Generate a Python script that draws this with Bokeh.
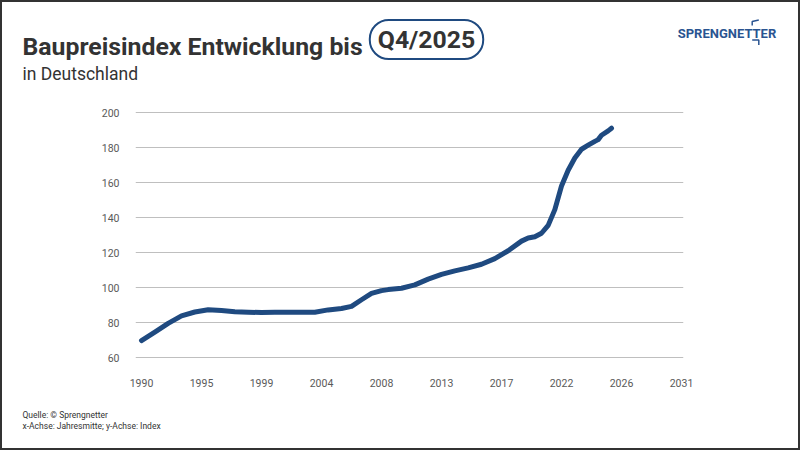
from bokeh.plotting import figure
from bokeh.layouts import column
from bokeh.models import Range1d, FixedTicker
from bokeh.core.properties import value
from bokeh.embed import file_html
from bokeh.resources import INLINE

# ---- data ----
years = [1990, 1991, 1992, 1993, 1994, 1995, 1996, 1997, 1998, 1999, 2000, 2001,
         2002, 2003, 2004, 2005, 2005.75, 2006.5, 2007.25, 2008, 2008.5, 2009.5,
         2010.5, 2011.5, 2012.5, 2013.5, 2014.5, 2015.5, 2016.5, 2017.5, 2018.5,
         2019, 2019.5, 2020, 2020.5, 2021, 2021.5, 2022, 2022.5, 2023, 2023.5,
         2024, 2024.25, 2024.5, 2025, 2025.25]
index_values = [69.7, 74.5, 79.5, 83.8, 86.0, 87.3, 86.8, 86.2, 85.9, 85.7, 85.8, 85.9,
                85.9, 85.9, 87.2, 88.0, 89.2, 93.0, 96.6, 98.2, 98.8, 99.6,
                101.5, 104.8, 107.5, 109.5, 111.2, 113.3, 116.5, 121.0, 126.5,
                128.3, 129.0, 131.0, 135.5, 144.5, 158.0, 167.0, 174.0, 179.0, 181.3,
                183.5, 184.5, 187.0, 189.5, 191.0]
xtick_values = [1990, 1994.5, 1999, 2003.5, 2008, 2012.5, 2017, 2021.5, 2026, 2030.5]
xtick_labels = ["1990", "1995", "1999", "2004", "2008", "2013", "2017", "2022", "2026", "2031"]
ytick_values = [60, 80, 100, 120, 140, 160, 180, 200]

title_text = ["Baupreisindex Entwicklung bis"]
title_badge = ["Q4/2025"]
subtitle_text = ["in Deutschland"]
logo_text = ["SPRENGNETTER"]
footer_lines = ["Quelle: \u00a9 Sprengnetter", "x-Achse: Jahresmitte; y-Achse: Index"]

# ---- layout (page pixels; a 2px frame surrounds the content) ----
B = 2
CW = 800 - 2 * B
HEAD_H, MAIN_H, FOOT_H = 93, 305, 48
HEAD_TOP = B
MAIN_TOP = HEAD_TOP + HEAD_H
FOOT_TOP = MAIN_TOP + MAIN_H

FONT = "Roboto"
BLUE = "#1F4A80"
LOGO_BLUE = "#2A5491"
TXT = "#333333"


def text_fig(h, top):
    f = figure(width=CW, height=h, output_backend="svg", toolbar_location=None,
               title=None, x_range=Range1d(B, B + CW), y_range=Range1d(top + h, top),
               x_axis_location=None, y_axis_location=None, frame_align=False,
               min_border=0, min_border_left=0, min_border_right=0,
               min_border_top=0, min_border_bottom=0)
    f.outline_line_color = None
    f.grid.visible = False
    f.background_fill_color = "white"
    f.border_fill_color = "white"
    return f


# header
head = text_fig(HEAD_H, HEAD_TOP)
head.text(x=[22], y=[45.5], text=title_text, text_font=value(FONT),
          text_font_style="bold", text_font_size=value("24.8px"), text_color=TXT,
          text_align="left", text_baseline="alphabetic")
head.text(x=[426], y=[39], text=title_badge, text_font=value(FONT),
          text_font_style="bold", text_font_size=value("24.8px"), text_color=TXT,
          text_align="center", text_baseline="middle",
          border_line_color=BLUE, border_line_width=2, border_radius=19,
          padding=(8, 5))
head.text(x=[22], y=[73.3], text=subtitle_text, text_font=value(FONT),
          text_font_size=value("17.5px"), text_color=TXT,
          text_align="left", text_baseline="alphabetic")
head.text(x=[726.5], y=[33], text=logo_text, text_font=value(FONT),
          text_font_style="bold", text_font_size=value("13px"), text_color=LOGO_BLUE,
          text_align="center", text_baseline="middle")
head.line(x=[751.7, 751.7, 758.3], y=[25, 21, 19.5], line_color=LOGO_BLUE, line_width=1.5)
head.line(x=[751.7, 758.3, 758.3], y=[39.5, 39.5, 44.5], line_color=LOGO_BLUE, line_width=1.5)

# main chart
FL, FR, FT, FB = 135, 683, 111, 358  # frame edges in page pixels
PX_PER_YEAR = 540 / 40.5
PX_PER_UNIT = 1.75
X0 = 1990 - 6 / PX_PER_YEAR
X1 = X0 + (FR - FL) / PX_PER_YEAR
Y0 = 60 - 1 / PX_PER_UNIT
Y1 = Y0 + (FB - FT) / PX_PER_UNIT

p = figure(width=CW, height=MAIN_H, output_backend="svg", toolbar_location=None,
           title=None, x_range=Range1d(X0, X1), y_range=Range1d(Y0, Y1),
           frame_align=False,
           min_border_left=FL - B, min_border_right=B + CW - FR,
           min_border_top=FT - MAIN_TOP, min_border_bottom=FOOT_TOP - FB)
p.outline_line_color = None
p.background_fill_color = "white"
p.border_fill_color = "white"

p.line(years, index_values, line_width=5, line_color=BLUE,
       line_cap="round", line_join="round")

p.xaxis.ticker = FixedTicker(ticks=xtick_values)
p.xaxis.major_label_overrides = {float(v): l for v, l in zip(xtick_values, xtick_labels)}
p.yaxis.ticker = FixedTicker(ticks=ytick_values)
for ax in (p.xaxis[0], p.yaxis[0]):
    ax.axis_line_color = None
    ax.major_tick_line_color = None
    ax.minor_tick_line_color = None
    ax.major_label_text_font = FONT
    ax.major_label_text_font_size = "10.5px"
    ax.major_label_text_color = "#595959"
p.xaxis.major_label_standoff = 14
p.yaxis.major_label_standoff = 10
p.xgrid.grid_line_color = None
p.ygrid.grid_line_color = "#BFBFBF"
p.ygrid.grid_line_width = 1

# footer
foot = text_fig(FOOT_H, FOOT_TOP)
foot.text(x=[22, 22], y=[414, 425], text=footer_lines, text_font=value(FONT),
          text_font_size=value("8.5px"), text_color=TXT,
          text_align="left", text_baseline="middle")

page = column(head, p, foot, spacing=0,
              styles={"border": "2px solid #333333", "width": "800px", "height": "450px",
                      "box-sizing": "border-box", "margin": "0px"})

open("out.html", "w").write(file_html(page, INLINE))
